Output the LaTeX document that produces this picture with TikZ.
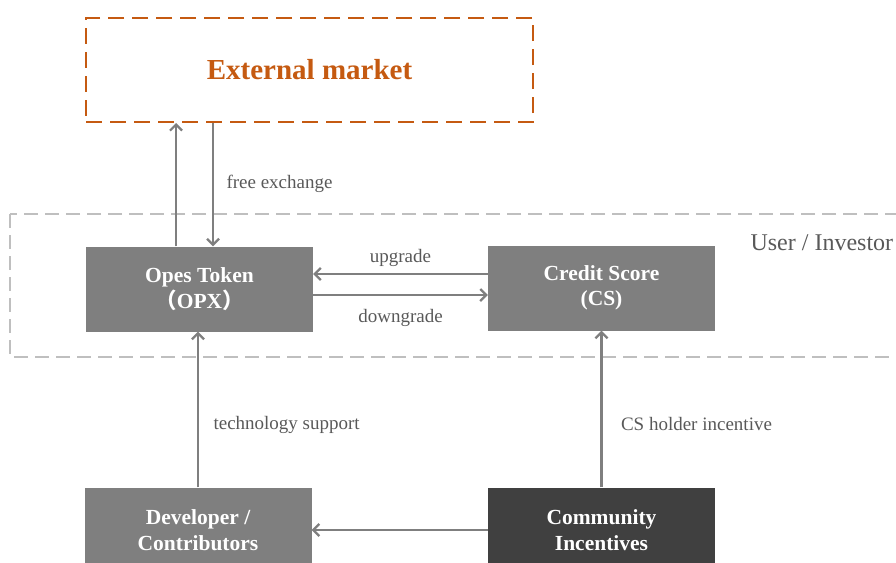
\documentclass[tikz,border=0pt]{standalone}
\usepackage{fontspec}
\setmainfont{Liberation Serif}
\newfontfamily\cjkfont{Noto Sans CJK SC}
\usetikzlibrary{arrows.meta}
\definecolor{mktorange}{HTML}{C55A11}
\definecolor{boxgray}{HTML}{7F7F7F}
\definecolor{boxdark}{HTML}{404040}
\definecolor{txtgray}{HTML}{595959}
\definecolor{framegray}{HTML}{BFBFBF}
\begin{document}
\begin{tikzpicture}[x=1pt,y=-1pt,
  box/.style={fill=boxgray, text=white, font=\bfseries\fontsize{21.5}{25.5}\selectfont,
    minimum width=227pt, minimum height=85pt, align=center, inner sep=0pt},
  flow/.style={draw=boxgray, line width=2.4pt, -{Straight Barb[length=6pt,width=12pt,line width=2.2pt]}},
  lbl/.style={text=txtgray, font=\fontsize{19}{22}\selectfont}]

\useasboundingbox (0,0) rectangle (896,562);

% user / investor frame
\draw[framegray, line width=1.5pt, dash pattern=on 14pt off 7pt] (10,214) rectangle (910,357);
\node[text=txtgray, font=\fontsize{24}{26}\selectfont, anchor=west] (user) at (747,243) {User / Investor};

\node[draw=mktorange, line width=2pt, dash pattern=on 16pt off 8pt, minimum width=447pt, minimum height=104pt,
  text=mktorange, font=\bfseries\fontsize{29}{32}\selectfont] (market) at (309.5,70) {External market};

\node[box] (opx) at (199.5,289) {Opes Token\\{\cjkfont （}OPX{\cjkfont ）}};
\node[box] (cs) at (601.5,288) {Credit Score\\(CS)};
\node[box] (dev) at (198,530) {Developer /\\Contributors};
\node[box, fill=boxdark] (comm) at (601.5,530) {Community\\Incentives};

% market <-> opx
\coordinate (outB) at ([xshift=-23.5pt]opx.north);
\coordinate (inB) at ([xshift=13.5pt]opx.north);
\draw[flow] (outB) -- (outB |- market.south);
\draw[flow] (inB |- market.south) -- (inB) node[lbl, midway, anchor=west, xshift=9pt, yshift=1pt] {free exchange};

% opx <-> cs
\coordinate (upR) at ([yshift=14pt]cs.west);
\coordinate (downL) at ([yshift=-6pt]opx.east);
\draw[flow] (upR) -- (opx.east |- upR) node[lbl, midway, above=3pt] {upgrade};
\draw[flow] (downL) -- (cs.west |- downL) node[lbl, midway, below=10pt] {downgrade};

% bottom row
\draw[flow] (dev.north) -- (dev.north |- opx.south) node[lbl, pos=0.4, anchor=west, xshift=11pt] {technology support};
\draw[flow] (comm.north) -- (cs.south) node[lbl, pos=0.4, anchor=west, xshift=15pt, yshift=1pt] {CS holder incentive};
\draw[flow] (comm.west) -- (dev.east);
\end{tikzpicture}
\end{document}
